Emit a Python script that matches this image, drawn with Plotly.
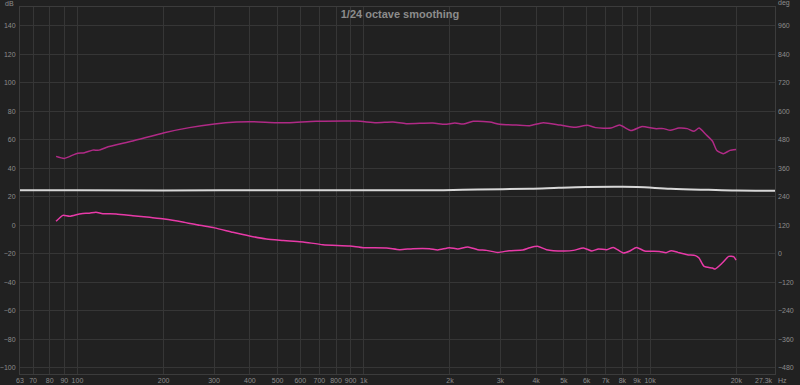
import plotly.graph_objects as go
import math

# ---- data ----
freq_upper = [84.2, 90, 99, 105.8, 113, 119, 126, 156, 201, 246, 301, 359, 399, 495, 551,
              682, 942, 1106, 1264, 1405, 1742, 1918, 2080, 2224, 2410, 2755, 2985, 3410, 3800,
              4230, 4850, 5480, 6030, 6450, 7300, 7820, 8600, 9330, 10400, 11140, 11760, 12600,
              13480, 14230, 14820, 15640, 16500, 17100, 18000, 19000, 19960]
db_upper = [48.4, 47.0, 50.3, 51.0, 52.8, 52.8, 54.7, 59.2, 65.0, 68.6, 71.1, 72.5, 72.8, 72.1, 72.1,
            73.0, 73.2, 72.1, 72.5, 71.4, 71.8, 70.9, 71.8, 71.1, 73.0, 72.5, 70.9, 70.4, 70.0,
            72.1, 70.4, 68.8, 70.2, 68.6, 68.3, 70.4, 66.5, 69.3, 67.9, 67.9, 66.7, 68.3,
            67.9, 66.0, 68.3, 63.9, 59.2, 52.6, 50.3, 52.6, 53.3]

freq_lower = [84.2, 89, 93.8, 103, 110, 116, 122.6, 136.5, 156, 178.5, 201, 233, 267, 301, 349,
              399, 457, 523, 551, 614, 720, 894, 995, 1200, 1334, 1484, 1696, 1813, 1990, 2130,
              2309, 2500, 2680, 2940, 3220, 3590, 3800, 4065, 4350, 4980, 5400, 5850, 6260, 6600,
              7060, 7440, 8060, 8500, 8960, 9570, 10780, 11370, 11840, 12500, 13480, 14400,
              14820, 15440, 16500, 16860, 17860, 18820, 19580, 19960]
db_lower = [2.8, 7.0, 6.3, 8.2, 8.5, 9.2, 8.2, 8.0, 6.8, 5.6, 4.5, 2.4, 0.0, -1.8, -4.9,
            -7.5, -9.6, -10.6, -11.0, -11.7, -13.6, -14.5, -15.7, -15.9, -17.1, -16.4, -16.4, -17.3, -15.7, -16.6,
            -15.2, -17.1, -17.6, -19.0, -17.8, -17.3, -15.7, -14.8, -17.1, -18.0, -17.6, -15.9, -18.0, -16.6,
            -17.1, -15.5, -19.4, -18.0, -15.5, -18.0, -18.3, -19.2, -17.8, -19.0, -20.6, -21.3,
            -23.0, -28.9, -30.0, -30.7, -26.5, -21.8, -22.0, -24.4]

freq_white = [63, 100, 200, 500, 1000, 1900, 2500, 3800, 4800, 6000, 7500, 9000, 11800, 16000, 20000, 27300]
db_white = [24.6, 24.6, 24.5, 24.6, 24.6, 24.7, 25.1, 25.7, 26.4, 26.9, 27.0, 26.9, 25.7, 24.9, 24.4, 24.3]

x_tickvals = [63, 70, 80, 90, 100, 200, 300, 400, 500, 600, 700, 800, 900, 1000,
              2000, 3000, 4000, 5000, 6000, 7000, 8000, 9000, 10000, 20000]
x_ticktext = ["63", "70", "80", "90", "100", "200", "300", "400", "500", "600", "700", "800", "900", "1k",
              "2k", "3k", "4k", "5k", "6k", "7k", "8k", "9k", "10k", "20k"]
f_min, f_max = 63, 27300
db_ticks = [-100, -80, -60, -40, -20, 0, 20, 40, 60, 80, 100, 120, 140]
deg_ticks = [-480, -360, -240, -120, 0, 120, 240, 360, 480, 600, 720, 840, 960]
db_range = [-104.4, 153.3]
deg_range = [-506.4, 1039.8]

BG = "#212121"
GRID = "#363636"
TXT = "#8c8c8c"
FONT = "Liberation Sans"

fig = go.Figure()
fig.add_trace(go.Scatter(x=freq_white, y=db_white, mode="lines",
                         line=dict(color="#d8d8d8", width=2, shape="spline"), showlegend=False))
fig.add_trace(go.Scatter(x=freq_upper, y=db_upper, mode="lines",
                         line=dict(color="#b02a86", width=1.5, shape="spline", smoothing=0.6), showlegend=False))
fig.add_trace(go.Scatter(x=freq_lower, y=db_lower, mode="lines",
                         line=dict(color="#e83aa8", width=1.5, shape="spline", smoothing=0.6), showlegend=False))
fig.add_trace(go.Scatter(x=[None], y=[None], yaxis="y2", showlegend=False, hoverinfo="skip"))

axis_common = dict(showgrid=True, gridcolor=GRID, gridwidth=1, zeroline=False,
                   showline=True, linecolor="#3c3c3c", linewidth=1, ticks="",
                   tickfont=dict(family=FONT, size=7, color=TXT), automargin=False)

fig.update_layout(
    width=800, height=385,
    margin=dict(l=20, r=25, t=7, b=11, pad=0),
    paper_bgcolor=BG, plot_bgcolor=BG,
    template="none",
    title=dict(text="<b>1/24 octave smoothing</b>", x=0.5, xref="container", xanchor="center",
               y=1 - 14 / 385, yref="container", yanchor="middle",
               font=dict(family=FONT, size=11, color=TXT)),
    xaxis=dict(type="log", range=[math.log10(f_min), math.log10(f_max)],
               tickmode="array", tickvals=x_tickvals, ticktext=x_ticktext, mirror=True,
               **axis_common),
    yaxis=dict(range=db_range, tickmode="array", tickvals=db_ticks, mirror=True,
               ticklabelstandoff=2, **axis_common),
    yaxis2=dict(range=deg_range, tickmode="array", tickvals=deg_ticks, overlaying="y", side="right",
                showgrid=False, zeroline=False, showline=False, ticks="",
                tickfont=dict(family=FONT, size=7, color=TXT), automargin=False,
                ticklabelstandoff=2),
    annotations=[
        dict(text="dB", xref="paper", yref="paper", x=-4 / 755, y=1 + 4 / 367,
             xanchor="right", yanchor="middle", showarrow=False,
             font=dict(family=FONT, size=7, color=TXT)),
        dict(text="deg", xref="paper", yref="paper", x=1 + 1 / 755, y=1 + 4 / 367,
             xanchor="left", yanchor="middle", showarrow=False,
             font=dict(family=FONT, size=7, color=TXT)),
        dict(text="27.3k", xref="x", yref="paper", x=math.log10(f_max), y=-6 / 367,
             xanchor="right", yanchor="middle", showarrow=False,
             font=dict(family=FONT, size=7, color=TXT)),
        dict(text="Hz", xref="x", yref="paper", x=math.log10(f_max), y=-6 / 367,
             xanchor="left", yanchor="middle", showarrow=False, xshift=1,
             font=dict(family=FONT, size=7, color=TXT)),
    ],
)

fig.write_html("out.html")
